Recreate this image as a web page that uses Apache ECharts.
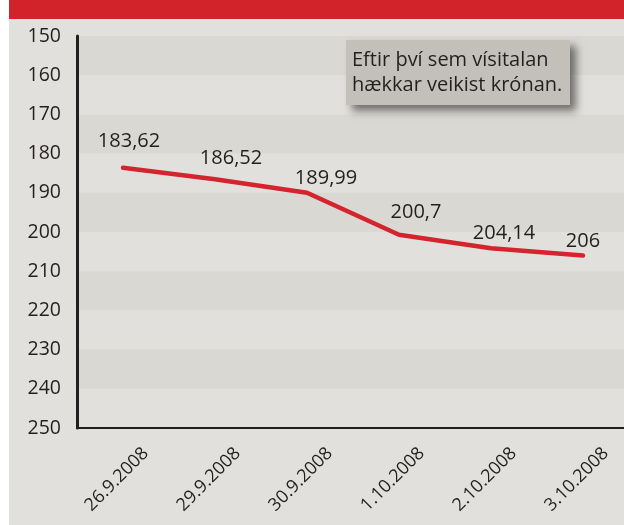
<!DOCTYPE html>
<html>
<head>
<meta charset="utf-8">
<script src="https://cdn.jsdelivr.net/npm/echarts@6/dist/echarts.min.js"></script>
<style>
html,body{margin:0;padding:0;background:#fff;}
#chart{width:624px;height:525px;}
</style>
</head>
<body>
<div id="chart"></div>
<script>
// ---- data ----
const categories = ['26.9.2008', '29.9.2008', '30.9.2008', '1.10.2008', '2.10.2008', '3.10.2008'];
const indexValues = [183.62, 186.52, 189.99, 200.7, 204.14, 206];
const yMin = 150;
const yMax = 250;
const yStep = 10;
const noteText = 'Eftir því sem vísitalan\nhækkar veikist krónan.';

// ---- styling (label nudges, not data) ----
const labelOffsets = [[6, -16], [16, -10], [19, -4], [17, -12], [13, -4], [0, -4]];

const ink = '#231f20';
const lineRed = '#d4242d';
const font = '"Open Sans", "Noto Sans", sans-serif';

const chart = echarts.init(document.getElementById('chart'), null, {renderer: 'canvas'});

const seriesData = indexValues.map((v, i) => ({
  value: v,
  label: {offset: labelOffsets[i]}
}));

chart.setOption({
  backgroundColor: '#e1e0dc',
  animation: false,
  grid: {left: 77, top: 36, width: 552, height: 392, containLabel: false, outerBoundsMode: 'none'},
  xAxis: {
    type: 'category',
    data: categories,
    boundaryGap: true,
    axisLine: {show: true, onZero: false, lineStyle: {color: ink, width: 2}},
    axisTick: {show: false},
    splitLine: {show: false},
    axisLabel: {
      interval: 0,
      rotate: 45,
      margin: 0,
      align: 'right',
      verticalAlign: 'top',
      lineHeight: 64,
      fontSize: 18,
      fontFamily: font,
      color: ink
    }
  },
  yAxis: {
    type: 'value',
    inverse: true,
    min: yMin,
    max: yMax,
    interval: yStep,
    axisLine: {show: true, lineStyle: {color: ink, width: 3}},
    axisTick: {show: false},
    splitLine: {show: false},
    splitArea: {show: true, areaStyle: {color: ['#d9d8d3', '#e1e0dc']}},
    axisLabel: {margin: 16, fontSize: 19.5, fontFamily: font, color: ink}
  },
  series: [{
    type: 'line',
    data: seriesData,
    symbol: 'circle',
    symbolSize: 1,
    showSymbol: true,
    itemStyle: {color: lineRed},
    lineStyle: {color: lineRed, width: 4.5, cap: 'round', join: 'round'},
    label: {
      show: true,
      position: 'top',
      distance: 0,
      fontSize: 20,
      lineHeight: 20,
      fontFamily: font,
      color: ink,
      formatter: p => String(p.value).replace('.', ',')
    },
    z: 3
  }],
  graphic: [
    {type: 'rect', shape: {x: 0, y: 0, width: 9, height: 525}, style: {fill: '#ffffff'}, silent: true},
    {type: 'rect', shape: {x: 9, y: 0, width: 615, height: 19}, style: {fill: '#d2232a'}, silent: true},
    {type: 'rect', shape: {x: 346, y: 40, width: 224, height: 65},
      style: {fill: '#c3c0b9', shadowBlur: 8, shadowOffsetX: 6, shadowOffsetY: 6, shadowColor: 'rgba(0,0,0,0.5)'}, z: 10, silent: true},
    {type: 'text', x: 352, y: 48, z: 11, silent: true,
      style: {text: noteText, font: '20px ' + font, lineHeight: 25, fill: ink, verticalAlign: 'top'}}
  ]
});
</script>
</body>
</html>
